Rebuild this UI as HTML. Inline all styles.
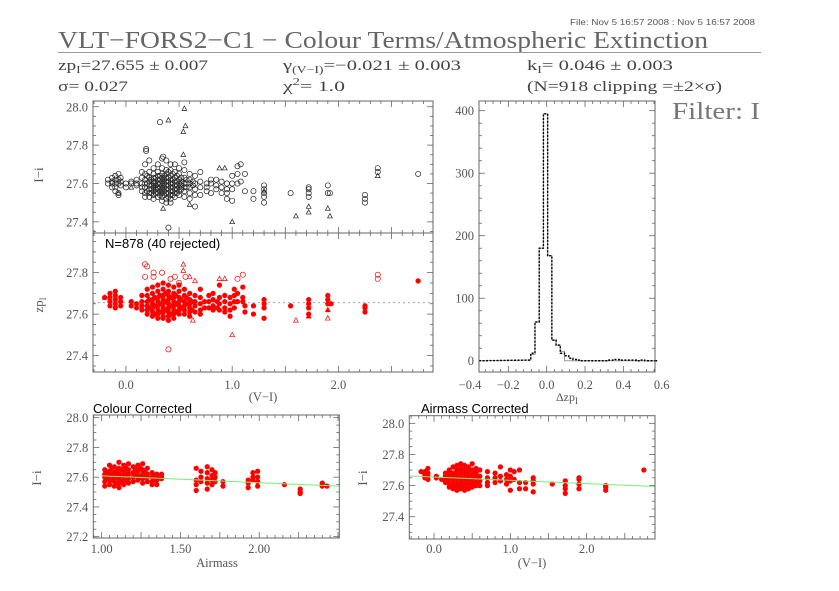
<!DOCTYPE html>
<html><head><meta charset="utf-8"><style>
html,body{margin:0;padding:0;background:#fff;}
svg{display:block;}
.serif{font-family:"Liberation Serif",serif;}
.sans{font-family:"Liberation Sans",sans-serif;}
</style></head><body>
<svg id="fig" width="839" height="591" viewBox="0 0 839 591" xmlns="http://www.w3.org/2000/svg">
<g>
<text x="755" y="25" text-anchor="end" class="sans" font-size="8" fill="#555" textLength="185" lengthAdjust="spacingAndGlyphs">File: Nov  5 16:57 2008 : Nov  5 16:57 2008</text>
<text x="58" y="48" class="serif" font-size="24.5" fill="#666" textLength="650" lengthAdjust="spacingAndGlyphs">VLT−FORS2−C1 − Colour Terms/Atmospheric Extinction</text>
<line x1="58" y1="52.5" x2="761" y2="52.5" stroke="#999" stroke-width="1"/>
<text x="58" y="70" class="serif" font-size="15" fill="#444" textLength="150" lengthAdjust="spacingAndGlyphs">zp<tspan font-size="10" dy="3">I</tspan><tspan dy="-3">=27.655 ± 0.007</tspan></text>
<text x="58" y="91" class="serif" font-size="15" fill="#444" textLength="70" lengthAdjust="spacingAndGlyphs">σ= 0.027</text>
<text x="283" y="70" class="serif" font-size="15" fill="#444" textLength="178" lengthAdjust="spacingAndGlyphs">γ<tspan font-size="10" dy="3">(V−I)</tspan><tspan dy="-3">=−0.021 ± 0.003</tspan></text>
<text x="283" y="91" class="serif" font-size="15" fill="#444" textLength="62" lengthAdjust="spacingAndGlyphs">χ<tspan font-size="10" dy="-6">2</tspan><tspan dy="6">=   1.0</tspan></text>
<text x="527" y="70" class="serif" font-size="15" fill="#444" textLength="146" lengthAdjust="spacingAndGlyphs">k<tspan font-size="10" dy="3">I</tspan><tspan dy="-3">= 0.046 ± 0.003</tspan></text>
<text x="527" y="91" class="serif" font-size="15" fill="#444" textLength="195" lengthAdjust="spacingAndGlyphs">(N=918 clipping =±2×σ)</text>
<text x="672" y="119" class="serif" font-size="24" fill="#777" textLength="88" lengthAdjust="spacingAndGlyphs">Filter: I</text>
</g>
</svg>
<script>
// ---------- data ----------
const topCircleCols = [[-0.17,[27.62,27.6]],[-0.13,[27.63,27.61,27.6,27.58]],[-0.1,[27.64,27.62,27.6,27.58,27.56]],[-0.07,[27.65,27.62,27.6,27.55,27.54]],[-0.05,[27.63,27.61,27.59]],[0.0,[27.6,27.58]],[0.05,[27.61,27.6]],[0.1,[27.6,27.59,27.62]],[0.15,[27.63,27.6,27.58,27.56,27.66]],[0.18,[27.7,27.65,27.62,27.6,27.58,27.55,27.53]],[0.22,[27.72,27.66,27.63,27.61,27.59,27.57,27.55,27.53]],[0.26,[27.68,27.65,27.63,27.61,27.6,27.58,27.56,27.54,27.52]],[0.3,[27.7,27.66,27.64,27.62,27.6,27.58,27.57,27.55,27.53]],[0.34,[27.73,27.68,27.65,27.63,27.61,27.59,27.57,27.55,27.53,27.51]],[0.38,[27.72,27.67,27.65,27.63,27.61,27.59,27.57,27.55,27.52,27.5]],[0.42,[27.7,27.67,27.64,27.62,27.6,27.58,27.56,27.54,27.52,27.5]],[0.46,[27.7,27.66,27.63,27.61,27.59,27.57,27.55,27.53]],[0.5,[27.68,27.65,27.62,27.6,27.58,27.56,27.54]],[0.55,[27.71,27.67,27.63,27.6,27.58,27.56,27.53]],[0.6,[27.65,27.62,27.6,27.58,27.55,27.52]],[0.65,[27.64,27.6,27.57,27.54,27.48]],[0.7,[27.66,27.61,27.58,27.54]],[0.76,[27.6,27.58,27.56]],[0.8,[27.62,27.6,27.55]],[0.85,[27.62,27.59,27.57]],[0.9,[27.61,27.58,27.55]],[0.95,[27.6,27.57,27.55,27.52]],[1.0,[27.64,27.6,27.57,27.51]],[1.05,[27.69,27.65,27.6]],[1.08,[27.7,27.61]],[1.12,[27.65,27.56]],[1.2,[27.56,27.52]],[1.3,[27.59,27.57,27.55,27.53,27.5]],[1.55,[27.55]],[1.72,[27.58,27.57,27.55,27.53]],[1.9,[27.59,27.55]],[1.92,[27.55]],[2.25,[27.54,27.52,27.5]],[2.37,[27.68,27.66]],[2.75,[27.65]],[0.32,[27.92]],[0.19,[27.78,27.77]],[0.35,[27.74]],[0.4,[27.37]],
[0.2,[27.64,27.6,27.56]],[0.24,[27.62,27.59,27.57,27.55]],[0.28,[27.63,27.61,27.59,27.57,27.55]],[0.32,[27.64,27.62,27.6,27.58,27.56,27.54]],[0.36,[27.64,27.62,27.6,27.58,27.56,27.54]],[0.4,[27.66,27.63,27.61,27.59,27.57,27.55,27.53]],[0.44,[27.65,27.62,27.6,27.58,27.56,27.54]],[0.48,[27.64,27.61,27.59,27.57,27.55]],[0.52,[27.63,27.61,27.59,27.57]],[0.57,[27.62,27.6,27.58]],[0.63,[27.61,27.59]]];
const topTriangles = [[0.4,27.93],[0.55,27.99],[0.56,27.9],[0.54,27.87],[0.54,27.75],[1.0,27.4],[1.6,27.43],[1.72,27.48],[1.72,27.45],[1.9,27.47],[1.92,27.43],[2.37,27.64],[0.88,27.68],[0.93,27.68],[0.6,27.49],[0.35,27.47],[-0.07,27.55],[0.05,27.58],[1.3,27.56]];
const zpFilledCols = [[-0.2,[27.68]],[-0.15,[27.7,27.68,27.66,27.64]],[-0.1,[27.71,27.69,27.67,27.65,27.63]],[-0.05,[27.68,27.66,27.64]],[0.05,[27.66,27.64]],[0.1,[27.65,27.63]],[0.15,[27.69,27.66,27.64,27.62]],[0.2,[27.72,27.69,27.66,27.64,27.62,27.6]],[0.25,[27.73,27.7,27.67,27.65,27.63,27.61,27.59]],[0.3,[27.74,27.71,27.68,27.66,27.64,27.62,27.6,27.58]],[0.35,[27.75,27.72,27.69,27.67,27.65,27.63,27.61,27.59,27.58]],[0.4,[27.74,27.71,27.69,27.67,27.65,27.63,27.61,27.59,27.57]],[0.45,[27.73,27.7,27.68,27.66,27.64,27.62,27.6,27.58]],[0.5,[27.74,27.71,27.68,27.66,27.64,27.62,27.6]],[0.55,[27.72,27.69,27.66,27.64,27.62,27.6]],[0.6,[27.7,27.67,27.65,27.63,27.61,27.59]],[0.65,[27.69,27.66,27.64,27.61]],[0.7,[27.72,27.68,27.65,27.62,27.6]],[0.78,[27.69,27.66,27.63]],[0.82,[27.7,27.67,27.64,27.62]],[0.88,[27.74,27.68,27.65,27.62]],[0.93,[27.69,27.66,27.63,27.61]],[0.98,[27.68,27.65,27.62,27.59]],[1.02,[27.72,27.69,27.66,27.63]],[1.05,[27.7,27.66]],[1.1,[27.73,27.68,27.66]],[1.12,[27.64,27.61]],[1.2,[27.64,27.6]],[1.3,[27.67,27.65,27.63,27.58]],[1.55,[27.64]],[1.72,[27.67,27.65,27.63,27.6]],[1.9,[27.69,27.67,27.65]],[1.93,[27.65]],[2.25,[27.64,27.63,27.61]],[2.75,[27.76]],
[0.22,[27.67,27.63]],[0.27,[27.68,27.64,27.6]],[0.32,[27.69,27.65,27.61]],[0.37,[27.7,27.66,27.62]],[0.42,[27.68,27.64,27.6]],[0.47,[27.69,27.65,27.61]],[0.52,[27.67,27.63]],[0.57,[27.68,27.65]],[0.62,[27.66,27.62]],[0.74,[27.66,27.63]],[0.86,[27.66,27.63]]];
const zpRejCircles = [[0.18,27.84],[0.2,27.83],[0.18,27.78],[0.26,27.78],[0.26,27.8],[0.34,27.8],[0.42,27.77],[0.46,27.78],[0.5,27.75],[0.56,27.78],[0.4,27.43],[1.05,27.77],[1.1,27.79],[2.37,27.79],[2.37,27.77]];
const zpRejTriangles = [[0.54,27.84],[0.54,27.81],[0.6,27.78],[0.65,27.76],[0.88,27.77],[0.93,27.77],[1.0,27.5],[1.6,27.57],[1.9,27.58],[0.63,27.57]];
const zpFilledTriangles = [[1.72,27.59],[1.9,27.62],[-0.2,27.68]];
const zpValue = 27.655;
const histStart = -0.105;
const histWidth = 0.022;
const histSolid = [1,10,62,180,395,168,33,25,15,0,0,0,0,0,0,0,0,0,0,0,0,0,0,0,0,0,0,0,0,0,0];
const histDotted = [1,12,62,180,395,168,33,25,12,8,4,2,1,0,0,0,0,0,0,1,1,2,1,1,1,1,0,1,0,0,0];
const amCols = [[1.02,[27.65,27.62,27.6,27.57,27.54]],[1.05,[27.68,27.64,27.61,27.58,27.55]],[1.08,[27.67,27.63,27.6,27.57,27.54]],[1.11,[27.7,27.66,27.62,27.59,27.56,27.53]],[1.14,[27.68,27.64,27.61,27.58,27.55]],[1.17,[27.69,27.65,27.62,27.59,27.56]],[1.2,[27.67,27.63,27.6,27.57]],[1.23,[27.68,27.64,27.61,27.58]],[1.26,[27.69,27.65,27.62,27.59,27.56]],[1.29,[27.66,27.62,27.6,27.57]],[1.32,[27.63,27.6,27.57,27.55]],[1.35,[27.62,27.6,27.58,27.55]],[1.38,[27.62,27.6,27.59]],[1.6,[27.66,27.58,27.55,27.51]],[1.63,[27.64,27.6,27.57]],[1.67,[27.67,27.63,27.59,27.56,27.52]],[1.7,[27.65,27.61,27.58,27.55]],[1.72,[27.63,27.6,27.57]],[1.77,[27.57,27.54]],[1.93,[27.58,27.56,27.53]],[1.96,[27.63,27.6,27.58]],[1.99,[27.64,27.6,27.57,27.54]],[2.16,[27.55]],[2.26,[27.52,27.5,27.49]],[2.4,[27.56,27.55,27.54]],[2.43,[27.54]],
[1.035,[27.63,27.59]],[1.065,[27.66,27.62,27.58]],[1.095,[27.64,27.6,27.56]],[1.125,[27.65,27.61,27.57]],[1.155,[27.66,27.62,27.58]],[1.215,[27.65,27.61]],[1.245,[27.66,27.6]],[1.275,[27.64,27.6]],[1.335,[27.61,27.58]]];
const vCols = [[-0.17,[27.69]],[-0.12,[27.69,27.67,27.65]],[-0.08,[27.71,27.68,27.66,27.64]],[0.03,[27.66,27.65]],[0.1,[27.64]],[0.15,[27.68,27.66,27.64,27.62]],[0.2,[27.7,27.67,27.64,27.61,27.59]],[0.25,[27.72,27.68,27.65,27.62,27.6,27.58]],[0.3,[27.73,27.7,27.67,27.64,27.61,27.59,27.57]],[0.35,[27.74,27.71,27.68,27.65,27.62,27.6,27.58]],[0.4,[27.73,27.7,27.67,27.64,27.61,27.59,27.57]],[0.45,[27.72,27.69,27.66,27.63,27.61,27.58]],[0.5,[27.74,27.7,27.67,27.64,27.61,27.59]],[0.55,[27.71,27.68,27.65,27.62,27.6]],[0.6,[27.7,27.66,27.63,27.6]],[0.7,[27.69,27.65,27.62,27.6]],[0.8,[27.68,27.65,27.62]],[0.87,[27.72,27.66,27.63]],[0.95,[27.67,27.64,27.61]],[1.0,[27.7,27.66,27.63,27.57]],[1.05,[27.69,27.64]],[1.12,[27.7,27.62,27.58]],[1.2,[27.62,27.58]],[1.3,[27.65,27.63,27.61,27.56]],[1.55,[27.61]],[1.72,[27.63,27.6,27.58,27.55]],[1.9,[27.65,27.64,27.61,27.58]],[2.25,[27.6,27.59,27.57]],[2.75,[27.7]]];
const kExt = 0.046;
const gammaCol = -0.021;
const colourTicks = ["0.0","1.0","2.0"];
const airmassTicks = ["1.00","1.50","2.00"];
const histXTicks = ["−0.4","−0.2","0.0","0.2","0.4","0.6"];
const histYTicks = ["0","100","200","300","400"];

// ---------- helpers ----------
const NS = "http://www.w3.org/2000/svg";
const svg = document.getElementById('fig');
function mk(tag, attrs, parent){ const e=document.createElementNS(NS,tag); for(const k in attrs) e.setAttribute(k,attrs[k]); (parent||svg).appendChild(e); return e; }
function lin(d0,d1,r0,r1){ return v => r0+(v-d0)*(r1-r0)/(d1-d0); }
function panel(name,x0,x1,y0,y1,xd,yd){
  const g=mk('g',{});
  
  
  return {g,x0,x1,y0,y1,sx:lin(xd[0],xd[1],x0,x1),sy:lin(yd[0],yd[1],y1,y0),xd,yd};
}
function frame(p){
  const r=mk('rect',{x:p.x0,y:p.y0,width:p.x1-p.x0,height:p.y1-p.y0,fill:'none',stroke:'#666','stroke-width':1},p.g);
  
  
}
function ticks(p,axis,major,minorN,labels,fmt,labelOff){
  const d = axis==='x'?p.xd:p.yd;
  const step = major/minorN;
  const start = Math.ceil(d[0]/step-1e-6)*step;
  for(let v=start; v<=d[1]+1e-9; v+=step){
    const isMaj = Math.abs(v/major-Math.round(v/major))<1e-6;
    const L = isMaj?6:3;
    if(axis==='x'){
      const x=p.sx(v);
      mk('line',{x1:x,x2:x,y1:p.y1,y2:p.y1-L,stroke:'#666','stroke-width':0.8},p.g);
      mk('line',{x1:x,x2:x,y1:p.y0,y2:p.y0+L,stroke:'#666','stroke-width':0.8},p.g);
    } else {
      const y=p.sy(v);
      mk('line',{y1:y,y2:y,x1:p.x0,x2:p.x0+L,stroke:'#666','stroke-width':0.8},p.g);
      mk('line',{y1:y,y2:y,x1:p.x1,x2:p.x1-L,stroke:'#666','stroke-width':0.8},p.g);
    }
  }
  if(!labels) return;
  labels.forEach(s=>{
    const v=parseFloat(s.replace('−','-'));
    let t;
    if(axis==='x') t=mk('text',{x:p.sx(v),y:p.y1+labelOff,'text-anchor':'middle','font-size':12.5,fill:'#555',class:'serif'},p.g);
    else t=mk('text',{x:p.x0-5,y:p.sy(v)+4.5,'text-anchor':'end','font-size':12.5,fill:'#555',class:'serif'},p.g);
    t.textContent=s;
    
    
  });
}
function circ(p,x,y,fill,stroke,r){
  const c=mk('circle',{cx:p.sx(x),cy:p.sy(y),r:r,fill:fill,stroke:stroke,'stroke-width':0.7},p.g);
  
  
}
function tri(p,x,y,fill,stroke){
  const cx=p.sx(x), cy=p.sy(y);
  const t=mk('polygon',{points:`${cx},${cy-2.6} ${cx-2.4},${cy+1.8} ${cx+2.4},${cy+1.8}`,fill:fill,stroke:stroke,'stroke-width':0.7},p.g);
  
  
}
function label(txt,x,y,size,cls,fill,rot,name,anchor){
  const t=mk('text',{x:x,y:y,'font-size':size,class:cls,fill:fill,'text-anchor':anchor||'start'});
  if(rot) t.setAttribute('transform',`rotate(-90 ${x} ${y})`);
  t.innerHTML=txt;
  
  
  return t;
}

// ---------- top panel (I-i vs V-I) ----------
const p1 = panel('raw-colour-panel',93,433,101,233,[-0.31,2.89],[27.342,28.03]);
ticks(p1,'x',0.5,5,null);
ticks(p1,'y',0.2,4,["28.0","27.8","27.6","27.4"]);
topCircleCols.forEach(([x,ys])=>ys.forEach(y=>circ(p1,x,y,'none','#222',2.6)));
topTriangles.forEach(([x,y])=>tri(p1,x,y,'none','#222'));
frame(p1);
label('I−i',43,175,13,'serif','#555',true,'y-axis-title-top','middle');

// ---------- zp panel ----------
const p2 = panel('zeropoint-panel',93,433,233,372,[-0.31,2.89],[27.321,27.991]);
ticks(p2,'x',0.5,5,colourTicks,null,17);
ticks(p2,'y',0.2,4,["27.8","27.6","27.4"]);
const ref=mk('line',{x1:p2.x0,x2:p2.x1,y1:p2.sy(zpValue),y2:p2.sy(zpValue),stroke:'#999','stroke-width':0.8,'stroke-dasharray':'2,3'},p2.g);


zpFilledCols.forEach(([x,ys])=>ys.forEach(y=>circ(p2,x,y,'#f00','#f00',2.3)));
zpRejCircles.forEach(([x,y])=>circ(p2,x,y,'none','#f00',2.6));
zpRejTriangles.forEach(([x,y])=>tri(p2,x,y,'none','#f00'));
zpFilledTriangles.forEach(([x,y])=>tri(p2,x,y,'#f00','#f00'));
frame(p2);
label('N=878 (40 rejected)',105,248,13,'sans','#000',false,'n-rejected-label');
label('zp<tspan font-size="9" dy="3">I</tspan>',43,305,13,'serif','#555',true,'y-axis-title-zp','middle');
label('(V−I)',263,401,12.5,'serif','#555',false,'x-axis-title-colour','middle');

// ---------- histogram ----------
const ph = panel('histogram-panel',479,655,101,372,[-0.353,0.565],[-18,415.5]);
ticks(ph,'x',0.2,5,histXTicks,null,17);
ticks(ph,'y',100,5,histYTicks);
function stepPath(counts){
  let d=`M${ph.x0},${ph.sy(0)}`;
  counts.forEach((c,i)=>{
    const a=ph.sx(histStart+i*histWidth), b=ph.sx(histStart+(i+1)*histWidth);
    d+=` L${a},${ph.sy(c)} L${b},${ph.sy(c)}`;
  });
  d+=` L${ph.x1},${ph.sy(0)}`;
  return d;
}
const hs=mk('path',{d:stepPath(histSolid),fill:'none',stroke:'#999','stroke-width':1},ph.g);


const hd=mk('path',{d:stepPath(histDotted),fill:'none',stroke:'#000','stroke-width':1.4,'stroke-dasharray':'2,1.5'},ph.g);


frame(ph);
label('Δzp<tspan font-size="9" dy="3">I</tspan>',567,401,12,'serif','#555',false,'x-axis-title-hist','middle');

// ---------- colour corrected (airmass) ----------
const p3 = panel('colour-corrected-panel',93.3,339.3,415,538,[0.947,2.508],[27.191,28.018]);
ticks(p3,'x',0.25,5,airmassTicks,null,15);
ticks(p3,'y',0.2,4,["28.0","27.8","27.6","27.4","27.2"]);
amCols.forEach(([x,ys])=>ys.forEach(y=>circ(p3,x,y,'#f00','#f00',2.3)));
const f3=mk('line',{x1:p3.sx(1.0),x2:p3.x1,y1:p3.sy(zpValue-kExt*1.0),y2:p3.sy(zpValue-kExt*p3.xd[1]),stroke:'#7e7','stroke-width':1},p3.g);


frame(p3);
label('Colour Corrected',93,413,13,'sans','#000',false,'colour-corrected-title');
label('I−i',41,478,13,'serif','#555',true,'y-axis-title-bl','middle');
label('Airmass',217,567,12.5,'serif','#555',false,'x-axis-title-airmass','middle');

// ---------- airmass corrected (V-I) ----------
const p4 = panel('airmass-corrected-panel',409.3,655,415.7,539,[-0.324,2.896],[27.257,28.049]);
ticks(p4,'x',0.5,5,colourTicks,null,14);
ticks(p4,'y',0.2,4,["28.0","27.8","27.6","27.4"]);
vCols.forEach(([x,ys])=>ys.forEach(y=>circ(p4,x,y,'#f00','#f00',2.3)));
const f4=mk('line',{x1:p4.x0,x2:p4.x1,y1:p4.sy(zpValue+gammaCol*p4.xd[0]),y2:p4.sy(zpValue+gammaCol*p4.xd[1]),stroke:'#7e7','stroke-width':1},p4.g);


frame(p4);
label('Airmass Corrected',421,413,13,'sans','#000',false,'airmass-corrected-title');
label('I−i',367,478,13,'serif','#555',true,'y-axis-title-br','middle');
label('(V−I)',532,567,12.5,'serif','#555',false,'x-axis-title-colour-br','middle');
</script>
</body></html>
